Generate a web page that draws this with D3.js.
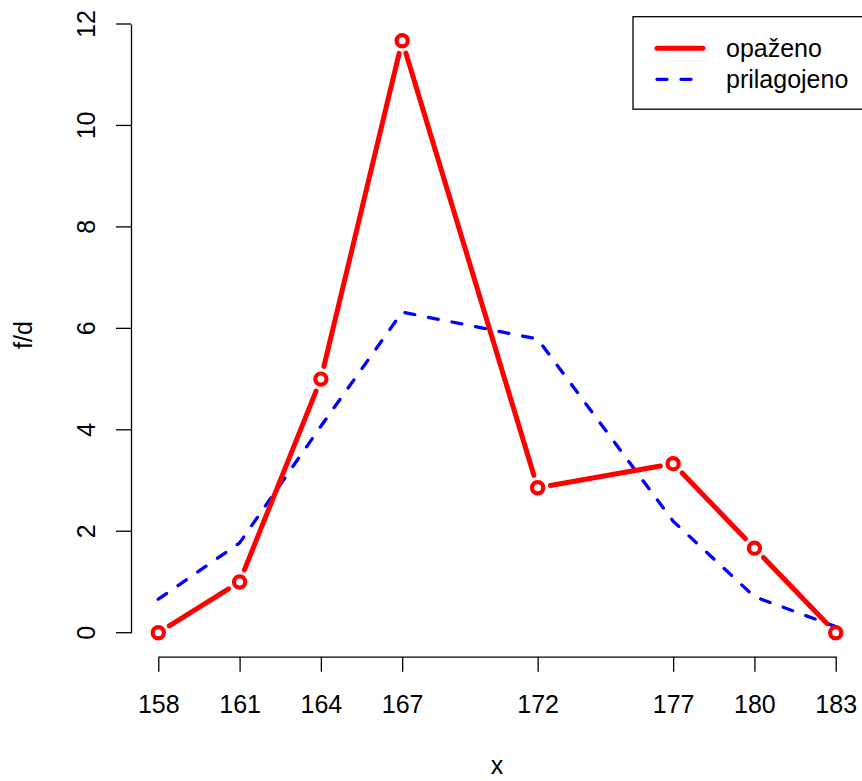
<!DOCTYPE html>
<html>
<head>
  <meta charset="utf-8">
  <script src="https://d3js.org/d3.v7.min.js"></script>
  <style>
    html, body { margin: 0; background: #fff; }
    text { font-family: "Liberation Sans", Arial, sans-serif; font-size: 25px; fill: #000; }
  </style>
</head>
<body>
<svg width="862" height="781"></svg>
<script>
// podatki
const xVals = [158, 161, 164, 167, 172, 177, 180, 183];
const observed = [0, 1, 5, 11.67, 2.857, 3.333, 1.667, 0];
const fitted = [0.66, 1.77, 4.07, 6.32, 5.79, 2.2, 0.71, 0.12];
const yTicks = [0, 2, 4, 6, 8, 10, 12];
const legendLabels = ["opaženo", "prilagojeno"];

const svg = d3.select("svg");

const x = d3.scaleLinear().domain([158, 183]).range([158.3, 835.7]);
const y = d3.scaleLinear().domain([0, 12]).range([632.7, 24]);

// osi
const xAxis = svg.append("g")
  .attr("transform", "translate(0,656.7)")
  .call(d3.axisBottom(x).tickValues(xVals).tickFormat(d3.format("d")).tickSize(15).tickSizeOuter(0));
xAxis.selectAll("text").attr("dy", null).attr("y", 56).style("font-size", "25px");

const yAxis = svg.append("g")
  .attr("transform", "translate(131,0)")
  .call(d3.axisLeft(y).tickValues(yTicks).tickSize(15).tickSizeOuter(0));
yAxis.selectAll("text")
  .attr("x", null).attr("dy", null)
  .attr("text-anchor", "middle")
  .attr("transform", d => `translate(-36,${y(d)}) rotate(-90)`)
  .attr("y", 0)
  .style("font-size", "25px");
yAxis.selectAll(".tick").attr("transform", null);
yAxis.selectAll(".tick line").attr("y1", d => y(d)).attr("y2", d => y(d));

svg.selectAll(".domain, .tick line").attr("stroke", "#000").attr("stroke-width", 1.3);
svg.selectAll(".tick text").attr("fill", "#000");

// naslovi osi
svg.append("text").attr("x", 497).attr("y", 774).attr("text-anchor", "middle").text("x");
svg.append("text").attr("transform", "translate(32,335) rotate(-90)").attr("text-anchor", "middle").text("f/d");

// prilagojeno (modra črtkana)
svg.append("path")
  .datum(xVals.map((v, i) => [v, fitted[i]]))
  .attr("fill", "none")
  .attr("stroke", "#0000ff")
  .attr("stroke-width", 3.3)
  .attr("stroke-dasharray", "10,14")
  .attr("stroke-linecap", "round")
  .attr("d", d3.line().x(d => x(d[0])).y(d => y(d[1])));

// opaženo (rdeča, type="b")
const pts = xVals.map((v, i) => ({ px: x(v), py: y(observed[i]) }));
const gap = 13;
const segs = d3.pairs(pts).map(([a, b]) => {
  const dx = b.px - a.px, dy = b.py - a.py, len = Math.hypot(dx, dy);
  return { x1: a.px + dx / len * gap, y1: a.py + dy / len * gap,
           x2: b.px - dx / len * gap, y2: b.py - dy / len * gap };
});
svg.append("g").selectAll("line").data(segs).join("line")
  .attr("x1", d => d.x1).attr("y1", d => d.y1)
  .attr("x2", d => d.x2).attr("y2", d => d.y2)
  .attr("stroke", "#ff0000").attr("stroke-width", 5).attr("stroke-linecap", "round");
svg.append("g").selectAll("circle").data(pts).join("circle")
  .attr("cx", d => d.px).attr("cy", d => d.py).attr("r", 5.6)
  .attr("fill", "none").attr("stroke", "#ff0000").attr("stroke-width", 4.2);

// legenda
const leg = svg.append("g");
leg.append("rect").attr("x", 633).attr("y", 16.7).attr("width", 240).attr("height", 92.5)
  .attr("fill", "#fff").attr("stroke", "#000").attr("stroke-width", 1.3);
leg.append("line").attr("x1", 657).attr("x2", 703).attr("y1", 48.3).attr("y2", 48.3)
  .attr("stroke", "#ff0000").attr("stroke-width", 5).attr("stroke-linecap", "round");
leg.append("line").attr("x1", 657).attr("x2", 703).attr("y1", 79.3).attr("y2", 79.3)
  .attr("stroke", "#0000ff").attr("stroke-width", 3.3).attr("stroke-dasharray", "10,14").attr("stroke-linecap", "round");
leg.selectAll("text.lab").data(legendLabels).join("text")
  .attr("class", "lab")
  .attr("x", 726).attr("y", (d, i) => 57 + i * 31)
  .text(d => d);
</script>
</body>
</html>
